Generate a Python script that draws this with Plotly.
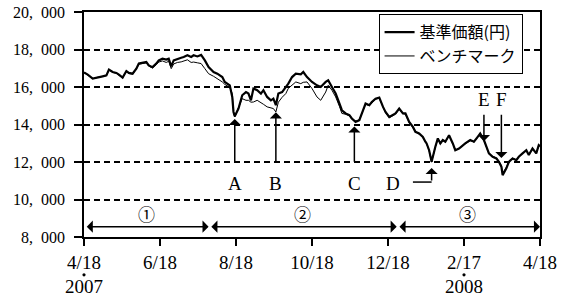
import plotly.graph_objects as go
from datetime import date

# ---------------- data ----------------
dates = [
    "2007-04-18", "2007-04-21", "2007-04-25", "2007-04-29", "2007-05-03", "2007-05-06",
    "2007-05-08", "2007-05-11", "2007-05-14", "2007-05-16", "2007-05-19", "2007-05-22",
    "2007-05-24", "2007-05-27", "2007-05-30", "2007-06-01", "2007-06-04", "2007-06-07",
    "2007-06-09", "2007-06-12", "2007-06-15", "2007-06-17", "2007-06-20", "2007-06-23",
    "2007-06-25", "2007-06-27", "2007-06-29", "2007-07-02", "2007-07-05", "2007-07-07",
    "2007-07-10", "2007-07-13", "2007-07-15", "2007-07-18", "2007-07-21",
    "2007-07-24", "2007-07-27", "2007-07-31", "2007-08-03", "2007-08-07", "2007-08-09",
    "2007-08-13", "2007-08-15", "2007-08-16", "2007-08-17", "2007-08-20", "2007-08-23",
    "2007-08-26", "2007-08-28", "2007-08-30", "2007-09-01", "2007-09-04", "2007-09-07",
    "2007-09-09", "2007-09-12", "2007-09-15", "2007-09-17", "2007-09-19", "2007-09-21",
    "2007-09-24", "2007-09-27", "2007-09-29", "2007-10-02", "2007-10-05", "2007-10-09",
    "2007-10-11", "2007-10-14", "2007-10-18", "2007-10-22", "2007-10-25", "2007-10-29",
    "2007-10-31", "2007-11-03", "2007-11-06", "2007-11-09", "2007-11-11", "2007-11-14",
    "2007-11-17", "2007-11-19", "2007-11-22", "2007-11-25", "2007-11-27", "2007-11-30",
    "2007-12-03", "2007-12-05", "2007-12-08", "2007-12-11", "2007-12-14", "2007-12-16",
    "2007-12-19", "2007-12-22", "2007-12-24", "2007-12-27", "2007-12-30", "2008-01-01",
    "2008-01-04", "2008-01-07", "2008-01-09", "2008-01-12", "2008-01-15", "2008-01-17",
    "2008-01-18", "2008-01-20", "2008-01-22", "2008-01-25", "2008-01-27", "2008-01-29",
    "2008-01-31", "2008-02-02", "2008-02-05", "2008-02-08", "2008-02-10", "2008-02-13",
    "2008-02-16", "2008-02-18", "2008-02-22", "2008-02-25", "2008-02-28", "2008-03-01",
    "2008-03-04", "2008-03-06", "2008-03-08", "2008-03-11", "2008-03-14", "2008-03-16",
    "2008-03-18", "2008-03-19", "2008-03-22", "2008-03-24", "2008-03-27", "2008-03-30",
    "2008-04-01", "2008-04-04", "2008-04-07", "2008-04-09", "2008-04-12", "2008-04-15",
    "2008-04-17", "2008-04-18",
]

fund_nav = [
    16780, 16660, 16450, 16530, 16570, 16620,
    16930, 16800, 16750, 16660, 16500, 16850,
    16750, 16710, 16980, 17250, 17300, 17330,
    17150, 17060, 17250, 17420, 17510, 17460,
    17510, 17100, 17420, 17510, 17560, 17600,
    17690, 17600, 17690, 17630, 17710,
    17420, 17060, 16800, 16710, 16530, 16270,
    16090, 15470, 14670, 14440, 14850, 15560,
    15730, 15650, 15290, 15920, 15830, 15650,
    15830, 15470, 15290, 15380, 15030, 15650,
    15730, 16000, 16180, 16530, 16710, 16680,
    16800, 16530, 16270, 16090, 16000, 16270,
    16360, 16000, 15650, 15120, 14760, 14590,
    14500, 14320, 14140, 14230, 14590, 15120,
    15030, 15200, 15380, 15440, 14940, 14670,
    14400, 14500, 14590, 14850, 14590, 14590,
    14140, 13870, 13610, 13520, 13340, 13080,
    12990, 12630, 12010, 12810, 13260, 12990,
    13170, 13080, 13430, 12990, 12630, 12720,
    12900, 12990, 13170, 13080, 13340, 13520,
    13170, 12810, 12460, 12280, 12190, 12010,
    11750, 11300, 11660, 12010, 12190, 12100,
    12280, 12460, 12630, 12370, 12720, 12460,
    12900, 12840,
]

benchmark = [
    16780, 16650, 16440, 16520, 16560, 16600,
    16910, 16780, 16730, 16640, 16480, 16830,
    16720, 16690, 16950, 17220, 17270, 17290,
    17110, 17010, 17190, 17330, 17390, 17310,
    17370, 16980, 17230, 17310, 17340, 17380,
    17450, 17310, 17330, 17290, 17250,
    16980, 16710, 16570, 16450, 16270, 16140,
    15980, 15650, 14670, 14400, 14940, 15380,
    15290, 15290, 15190, 15200, 15290, 15190,
    15080, 14940, 14870, 14850, 14670, 15190,
    15450, 15650, 15930, 16090, 16270, 16180,
    16250, 16270, 15920, 15470, 15290, 15730,
    16090, 15830, 15470, 14970, 14590, 14550,
    14470, 14280, 14180, 14260, 14600, 15080,
    15000, 15160, 15350, 15400, 14890, 14630,
    14360, 14470, 14550, 14810, 14580, 14550,
    14100, 13830, 13620, 13480, 13300, 13060,
    12970, 12610, 11990, 12790, 13230, 12960,
    13150, 13060, 13400, 12980, 12640, 12710,
    12880, 12970, 13140, 13060, 13320, 13490,
    13150, 12790, 12440, 12300, 12220, 12050,
    11800, 11400, 11720, 12040, 12210, 12120,
    12290, 12460, 12620, 12380, 12710, 12470,
    12880, 12830,
]

series_names = ["基準価額(円)", "ベンチマーク"]

x_range = ["2007-04-18", "2008-04-18"]
x_tick_dates = ["2007-04-18", "2007-06-18", "2007-08-18", "2007-10-18",
                "2007-12-18", "2008-02-17", "2008-04-18"]
x_tick_text = ["4/18<br>2007", "6/18", "8/18", "10/18", "12/18", "2/17<br>2008", "4/18"]
year_dot_dates = ["2007-04-18", "2008-02-17"]

y_tick_vals = [8000, 10000, 12000, 14000, 16000, 18000, 20000]
y_tick_text = ["8,\u2002000", "10,\u2002000", "12,\u2002000", "14,\u2002000",
               "16,\u2002000", "18,\u2002000", "20,\u2002000"]

# event markers: label, date, tip value, tail value
event_labels = ["A", "B", "C", "D", "E", "F"]
event_dates = ["2007-08-17", "2007-09-19", "2007-11-21", "2008-01-22", "2008-03-04", "2008-03-18"]
event_tip = [14300, 14650, 13900, 11680, 13110, 12210]
event_tail = [11940, 11940, 11940, 10930, 14600, 14600]
event_label_y = [10880, 10880, 10880, 10880, 15350, 15350]
event_label_dates = ["2007-08-17", "2007-09-19", "2007-11-21", "2007-12-22", "2008-03-04", "2008-03-18"]
d_elbow_start = "2008-01-07"

# periods
period_labels = ["①", "②", "③"]
period_start = ["2007-04-19", "2007-07-28", "2007-12-26"]
period_end = ["2007-07-27", "2007-12-25", "2008-04-18"]
period_label_dates = ["2007-06-07", "2007-10-10", "2008-02-20"]
period_arrow_y = 8550
period_label_y = 9280

# ---------------- figure ----------------
SERIF = "Liberation Serif"
CJK = "Noto Sans CJK JP"

fig = go.Figure()
fig.add_trace(go.Scatter(x=dates, y=fund_nav, mode="lines", name=series_names[0],
                         line=dict(color="black", width=2.2)))
fig.add_trace(go.Scatter(x=dates, y=benchmark, mode="lines", name=series_names[1],
                         line=dict(color="black", width=1)))

ann = []
for lab, d, tip, tail, ly, ld in zip(event_labels, event_dates, event_tip, event_tail,
                                     event_label_y, event_label_dates):
    ann.append(dict(x=d, y=tip, ax=d, ay=tail, xref="x", yref="y", axref="x", ayref="y",
                    text="", showarrow=True, arrowhead=1, arrowsize=1.35, arrowwidth=1.5,
                    arrowcolor="black"))
    ann.append(dict(x=ld, y=ly, xref="x", yref="y", text=lab, showarrow=False,
                    font=dict(family=SERIF, size=19, color="black")))

for lab, s, e, ld in zip(period_labels, period_start, period_end, period_label_dates):
    ann.append(dict(x=e, y=period_arrow_y, ax=s, ay=period_arrow_y, xref="x", yref="y",
                    axref="x", ayref="y", text="", showarrow=True, arrowhead=1,
                    startarrowhead=1, arrowside="end+start", arrowsize=1.35,
                    startarrowsize=1.35, arrowwidth=1.5, arrowcolor="black"))
    ann.append(dict(x=ld, y=period_label_y, xref="x", yref="y", text=lab, showarrow=False,
                    font=dict(family=CJK, size=17, color="black")))

shapes = [dict(type="line", xref="x", yref="y", x0=d_elbow_start, x1=event_dates[3],
               y0=event_tail[3], y1=event_tail[3], line=dict(color="black", width=1.5))]

# year separator dots under the tick labels (x position from the date scale)
d0 = date.fromisoformat(x_range[0])
span = (date.fromisoformat(x_range[1]) - d0).days
for d in year_dot_dates:
    frac = (date.fromisoformat(d) - d0).days / span
    shapes.append(dict(type="circle", xref="paper", yref="paper", xsizemode="pixel",
                       ysizemode="pixel", xanchor=frac, yanchor=-0.168,
                       x0=-1.6, x1=1.6, y0=-1.6, y1=1.6,
                       fillcolor="black", line=dict(width=0)))

fig.update_layout(
    width=565, height=298,
    margin=dict(l=84, r=25, t=12, b=61, autoexpand=False),
    paper_bgcolor="white", plot_bgcolor="white",
    showlegend=True,
    legend=dict(x=0.646, y=0.99, xanchor="left", yanchor="top",
                bordercolor="black", borderwidth=1, bgcolor="white",
                font=dict(family=CJK, size=16, color="black"),
                tracegroupgap=0, itemwidth=30),
    annotations=ann,
    shapes=shapes,
)

fig.update_xaxes(
    type="date", range=x_range, automargin=False,
    tickmode="array", tickvals=x_tick_dates, ticktext=x_tick_text,
    ticks="outside", ticklen=7, tickwidth=1.5, tickcolor="black",
    showline=True, linecolor="black", linewidth=1.5, mirror=True,
    showgrid=False, zeroline=False,
    tickfont=dict(family=SERIF, size=19, color="black"),
    ticklabelstandoff=0,
)
fig.update_yaxes(
    range=[8000, 20000], automargin=False,
    tickmode="array", tickvals=y_tick_vals, ticktext=y_tick_text,
    ticks="outside", ticklen=8, tickwidth=1.5, tickcolor="black",
    showline=True, linecolor="black", linewidth=1.5, mirror=True,
    showgrid=True, gridcolor="black", gridwidth=1.8, griddash="6px,4px",
    zeroline=False,
    tickfont=dict(family=SERIF, size=16, color="black"),
    ticklabelstandoff=6,
)

fig.write_html("out.html", config={"displayModeBar": False},
               post_script="document.body.style.margin='0px';")
